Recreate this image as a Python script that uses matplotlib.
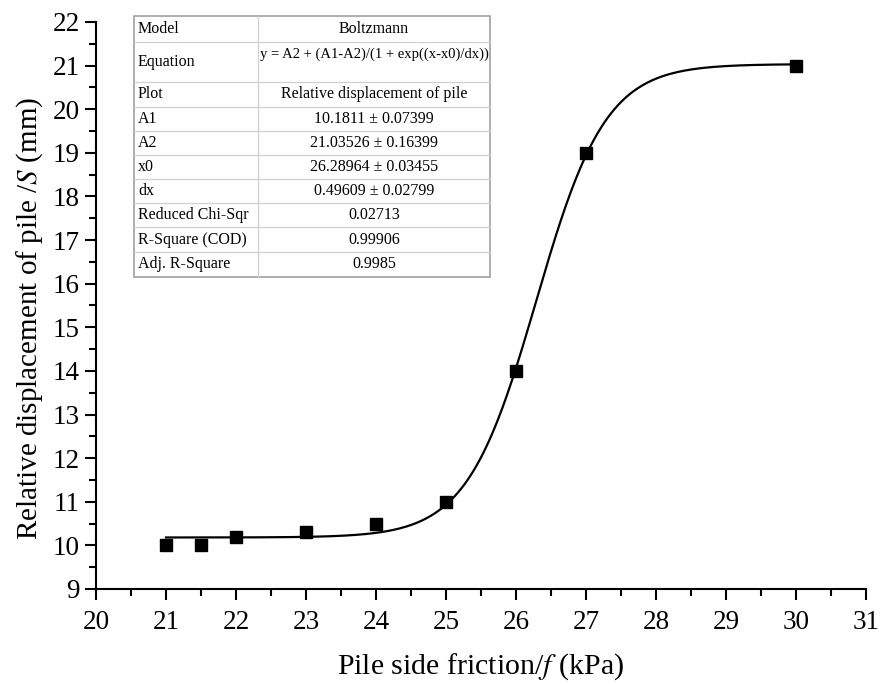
import numpy as np
import matplotlib.pyplot as plt
from matplotlib.lines import Line2D

plt.rcParams['font.family'] = ['Liberation Serif', 'DejaVu Serif']
plt.rcParams['mathtext.fontset'] = 'stix'

# measured points
friction = [21, 21.5, 22, 23, 24, 25, 26, 27, 30]
displacement = [10.0, 10.0, 10.2, 10.3, 10.5, 11.0, 14.0, 19.0, 21.0]

# Boltzmann fit parameters
A1, A2, x0, dx = 10.1811, 21.03526, 26.28964, 0.49609

table_labels = ['Model', 'Equation', 'Plot', 'A1', 'A2', 'x0', 'dx',
                'Reduced Chi-Sqr', 'R-Square (COD)', 'Adj. R-Square']
table_values = ['Boltzmann', 'y = A2 + (A1-A2)/(1 + exp((x-x0)/dx))',
                'Relative displacement of pile', '10.1811 \u00b1 0.07399',
                '21.03526 \u00b1 0.16399', '26.28964 \u00b1 0.03455',
                '0.49609 \u00b1 0.02799', '0.02713', '0.99906', '0.9985']


def boltzmann(x):
    return A2 + (A1 - A2) / (1 + np.exp((x - x0) / dx))


W, H = 880, 684
fig = plt.figure(figsize=(W / 100, H / 100), dpi=100)
ax = fig.add_axes([96 / W, 1 - 589 / H, (866 - 96) / W, (589 - 22) / H])

xf = np.linspace(21, 30, 400)
ax.plot(xf, boltzmann(xf), color='black', lw=1.6, zorder=2)
ax.plot(friction, displacement, 's', color='black', ms=9, zorder=3)

ax.set_xlim(20, 31)
ax.set_ylim(9, 22)
ax.set_xticks(range(20, 32))
ax.set_yticks(range(9, 23))
ax.set_xticks(np.arange(20.5, 31, 1), minor=True)
ax.set_yticks(np.arange(9.5, 22, 1), minor=True)
for s in ['top', 'right']:
    ax.spines[s].set_visible(False)
for s in ['left', 'bottom']:
    ax.spines[s].set_linewidth(1.5)
ax.tick_params(which='major', direction='out', length=8, width=1.5, labelsize=19.5)
ax.tick_params(axis='x', which='major', pad=7)
ax.tick_params(which='minor', direction='out', length=5, width=1.5)
ax.set_xlabel('Pile side friction/$\\mathit{f}$ (kPa)', fontsize=21.5, labelpad=12)
ax.set_ylabel('Relative displacement of pile /$\\mathit{S}$ (mm)', fontsize=21)
ax.yaxis.set_label_coords(-0.066, 0.478)

# fit results table, in pixel coordinates
tx0, tx1, tdiv = 134, 490, 258
row_edges = [16, 42, 82, 107, 131, 155, 179, 203, 227, 252, 277]


def fx(px):
    return px / W


def fy(py):
    return 1 - py / H


grey = '#a0a0a0'
fig.patches.append(plt.Rectangle((fx(tx0), fy(row_edges[-1])), fx(tx1 - tx0),
                                 (row_edges[-1] - row_edges[0]) / H,
                                 transform=fig.transFigure, facecolor='white',
                                 edgecolor=grey, lw=1.2, zorder=5))
for e in row_edges[1:-1]:
    fig.add_artist(Line2D([fx(tx0), fx(tx1)], [fy(e), fy(e)], color='#d0d0d0', lw=0.9, zorder=6))
fig.add_artist(Line2D([fx(tdiv), fx(tdiv)], [fy(row_edges[0]), fy(row_edges[-1])],
                      color='#d0d0d0', lw=0.9, zorder=6))
for i, (lab, val) in enumerate(zip(table_labels, table_values)):
    top, bot = row_edges[i], row_edges[i + 1]
    fig.text(fx(tx0 + 4), fy((top + bot) / 2), lab, ha='left', va='center',
             fontsize=11.5, zorder=7)
    vy = top + 12 if lab == 'Equation' else (top + bot) / 2
    fig.text(fx((tdiv + tx1) / 2), fy(vy), val, ha='center', va='center',
             fontsize=11.5 if lab != 'Equation' else 10.5, zorder=7)

fig.savefig('out.png', dpi=100)
